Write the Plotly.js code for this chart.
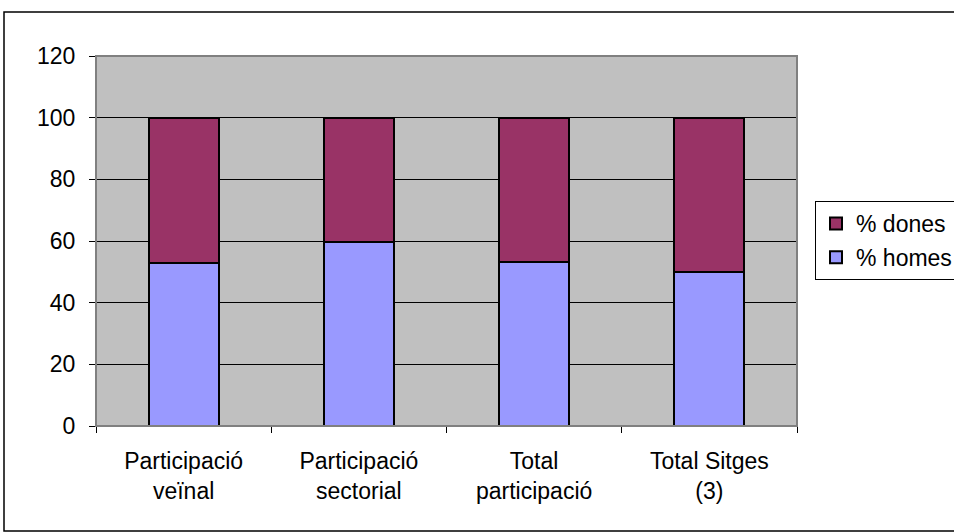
<!DOCTYPE html>
<html>
<head>
<meta charset="utf-8">
<script src="https://cdn.plot.ly/plotly-3.0.1.min.js"></script>
<style>
html,body{margin:0;padding:0;background:#fff;overflow:hidden;width:954px;height:532px;}
#chart{width:990px;height:532px;}
</style>
</head>
<body>
<div id="chart"></div>
<script>
const categories = ["Participació<br>veïnal", "Participació<br>sectorial", "Total<br>participació", "Total Sitges<br>(3)"];
const homes = [53.0, 59.6, 53.2, 50.0];
const dones = [47.0, 40.4, 46.8, 50.0];
const seriesNames = ["% homes", "% dones"];
const yTicks = [0, 20, 40, 60, 80, 100, 120];

const fontFam = "Liberation Sans, Arial, sans-serif";
const FS = 23;
const traces = [
  {type: "bar", name: seriesNames[0], x: categories, y: homes, legendgroup: "h", legendrank: 2,
   marker: {color: "#9999FF", line: {color: "#000", width: 2}}},
  {type: "bar", name: seriesNames[1], x: categories, y: dones, legendgroup: "d", legendrank: 1,
   marker: {color: "#993366", line: {color: "#000", width: 2}}}
];
const W = 990, H = 532, L = 96, R = 797, T = 56, B = 426;
const pw = R - L, ph = B - T;
const layout = {
  width: W, height: H,
  margin: {l: L, r: W - R, t: T, b: H - B, pad: 0},
  barmode: "stack",
  bargap: 0.6,
  paper_bgcolor: "#fff",
  plot_bgcolor: "#C0C0C0",
  font: {family: fontFam, size: FS, color: "#000"},
  showlegend: true,
  legend: {
    x: (815 - L) / pw, xanchor: "left",
    y: (B - 201) / ph, yanchor: "top",
    bgcolor: "#fff", bordercolor: "#000", borderwidth: 1,
    traceorder: "grouped",
    font: {family: fontFam, size: FS, color: "#000"},
    itemwidth: 30, tracegroupgap: 1
  },
  xaxis: {
    type: "category",
    tickson: "boundaries",
    ticks: "outside", ticklen: 6, tickcolor: "#000", tickwidth: 1,
    showline: true, linecolor: "#000", linewidth: 1,
    showgrid: false, zeroline: false,
    tickfont: {family: fontFam, size: FS, color: "#000"},
    ticklabelstandoff: 14,
    fixedrange: true
  },
  yaxis: {
    range: [0, 120],
    tickvals: yTicks,
    ticks: "outside", ticklen: 6, tickcolor: "#000", tickwidth: 1,
    showline: true, linecolor: "#000", linewidth: 1,
    showgrid: true, gridcolor: "#000", gridwidth: 1,
    zeroline: false,
    tickfont: {family: fontFam, size: FS, color: "#000"},
    ticklabelstandoff: 9,
    fixedrange: true
  },
  shapes: [
    {type: "rect", xref: "paper", yref: "paper",
     x0: 0, x1: 1, y0: 0, y1: 1,
     line: {color: "#808080", width: 2}, layer: "above"},
    {type: "rect", xref: "paper", yref: "paper",
     x0: (4 - L) / pw, x1: (985 - L) / pw, y0: (B - 531) / ph, y1: (B - 12) / ph,
     line: {color: "#000", width: 1.5}, layer: "below"}
  ]
};
Plotly.newPlot("chart", traces, layout, {displayModeBar: false, staticPlot: true});
</script>
</body>
</html>
